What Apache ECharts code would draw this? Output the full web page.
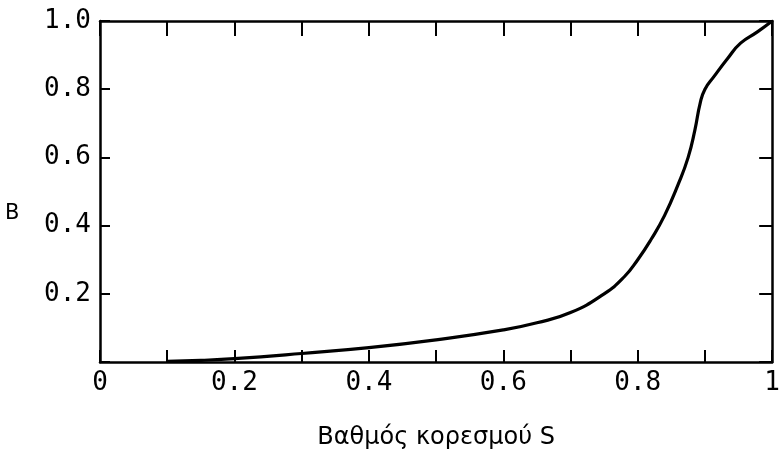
<!DOCTYPE html>
<html>
<head>
<meta charset="utf-8">
<script src="https://cdn.jsdelivr.net/npm/echarts@6/dist/echarts.min.js"></script>
<style>html,body{margin:0;padding:0;background:#fff}#c{width:783px;height:464px}</style>
</head>
<body>
<div id="c"></div>
<script>
// Saturation S (x) and B (y)
const sValues = [0.10, 0.15, 0.20, 0.30, 0.40, 0.50, 0.60, 0.65, 0.70, 0.75, 0.78, 0.80, 0.82, 0.84, 0.86, 0.875, 0.885, 0.893, 0.90, 0.913, 0.934, 0.953, 0.978, 1.00];
const bValues = [0.002, 0.005, 0.010, 0.025, 0.042, 0.065, 0.094, 0.115, 0.145, 0.200, 0.250, 0.300, 0.360, 0.430, 0.520, 0.600, 0.680, 0.760, 0.800, 0.836, 0.891, 0.935, 0.968, 1.00];
const xTickLabels = {"0":"0","0.2":"0.2","0.4":"0.4","0.6":"0.6","0.8":"0.8","1":"1"};
const yTickLabels = {"0.2":"0.2","0.4":"0.4","0.6":"0.6","0.8":"0.8","1":"1.0"};
const xTitle = "Βαθμός κορεσμού S";
const yTitle = "B";

const chart = echarts.init(document.getElementById('c'), null, {renderer:'canvas'});
const labelFont = {fontFamily:'DejaVu Sans Mono', fontSize:26, color:'#000'};
const axisLine = {show:true, onZero:false, lineStyle:{color:'#000', width:2.5}};
const key = v => String(Math.round(v*10)/10);
chart.setOption({
  animation:false,
  backgroundColor:'#fff',
  grid:{left:100, right:2, top:21, bottom:102},
  graphic:[{
    type:'text', left:5, top:203,
    style:{text:yTitle, fontFamily:'DejaVu Sans', fontSize:21, fill:'#000'}
  }],
  xAxis:[{
    type:'value', min:0, max:1, interval:0.1, position:'bottom',
    axisLine:axisLine, splitLine:{show:false},
    axisTick:{show:true, inside:true, length:12, lineStyle:{color:'#000', width:2}},
    axisLabel:Object.assign({margin:8, showMinLabel:true, showMaxLabel:true,
      formatter:v => xTickLabels[key(v)] || ''}, labelFont),
    name:xTitle, nameLocation:'middle', nameGap:64,
    nameTextStyle:{fontFamily:'DejaVu Sans', fontSize:24, color:'#000'}
  },{
    type:'value', min:0, max:1, interval:0.1, position:'top',
    axisLine:axisLine, splitLine:{show:false},
    axisTick:{show:true, inside:true, length:15, lineStyle:{color:'#000', width:2}},
    axisLabel:{show:false}
  }],
  yAxis:[{
    type:'value', min:0, max:1, interval:0.2, position:'left',
    axisLine:axisLine, splitLine:{show:false},
    axisTick:{show:true, inside:true, length:10, lineStyle:{color:'#000', width:2}},
    axisLabel:Object.assign({margin:9, formatter:v => yTickLabels[key(v)] || ''}, labelFont)
  },{
    type:'value', min:0, max:1, interval:0.2, position:'right',
    axisLine:axisLine, splitLine:{show:false},
    axisTick:{show:true, inside:true, length:13, lineStyle:{color:'#000', width:2}},
    axisLabel:{show:false}
  }],
  series:[{
    type:'line', xAxisIndex:0, yAxisIndex:0,
    data:sValues.map((s,i)=>[s,bValues[i]]),
    smooth:0.5, showSymbol:false, symbol:'none',
    lineStyle:{color:'#000', width:3.2}
  }]
});
</script>
</body>
</html>
